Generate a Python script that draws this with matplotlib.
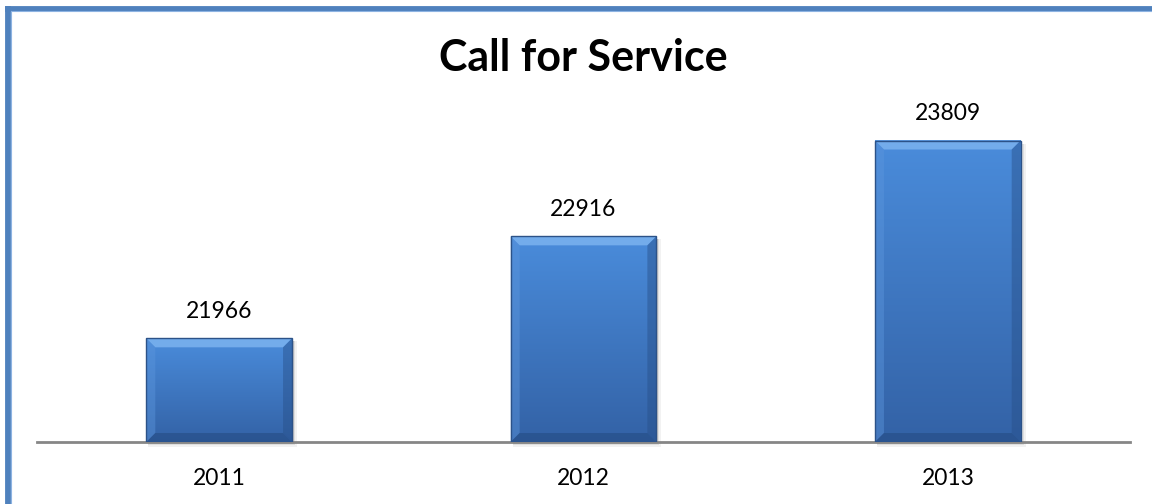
import matplotlib
matplotlib.use('Agg')
import matplotlib.pyplot as plt
import numpy as np
from matplotlib.patches import Polygon
from matplotlib.lines import Line2D

# data
years = ['2011', '2012', '2013']
calls = [21966, 22916, 23809]
y_min, y_max = 21000, 24000

W, H = 1152, 504
fig = plt.figure(figsize=(W / 100, H / 100), dpi=100)
fig.patch.set_facecolor('white')

# plot area in pixels: x 37..1130, y 120..442
ax = fig.add_axes([37 / W, (H - 442) / H, (1130 - 37) / W, (442 - 120) / H])
ax.set_xlim(-0.5, len(years) - 0.5)
ax.set_ylim(y_min, y_max)
ax.set_facecolor('none')
for s in ['top', 'right', 'left']:
	ax.spines[s].set_visible(False)
ax.spines['bottom'].set_color('#868686')
ax.spines['bottom'].set_linewidth(2)
ax.set_yticks([])
ax.set_xticks(range(len(years)))
ax.set_xticklabels(years, fontsize=16.5, family='Lato')
ax.tick_params(axis='x', length=0, pad=19)

bars = ax.bar(range(len(years)), [c - y_min for c in calls], bottom=y_min,
	width=0.4, color='none', edgecolor='none', zorder=3)

fig.canvas.draw()
to_data = ax.transData.inverted()

# gradient fill + bevel for each bar, worked out in pixel space
grad = np.linspace(0, 1, 256).reshape(-1, 1)
top_c = np.array([0x4a, 0x8c, 0xdb]) / 255
bot_c = np.array([0x33, 0x62, 0xa6]) / 255
cols = (top_c * (1 - grad) + bot_c * grad).reshape(256, 1, 3)
bev = 9  # bevel size in px

for b, val in zip(bars, calls):
	x0, y0 = b.get_x(), b.get_y()
	x1, y1 = x0 + b.get_width(), y0 + b.get_height()
	(px0, py0), (px1, py1) = ax.transData.transform([(x0, y0), (x1, y1)])

	def d(pts):
		return to_data.transform(pts)

	# soft shadow
	for k, a in [(5, 0.05), (3, 0.08), (1.5, 0.12)]:
		sh = d([(px0 + 2, py0 - k), (px1 + k, py0 - k), (px1 + k, py1 - 3), (px0 + 2, py1 - 3)])
		ax.add_patch(Polygon(sh, closed=True, facecolor='black', alpha=a, edgecolor='none', zorder=2, clip_on=False))

	ax.imshow(cols, extent=(x0, x1, y0, y1), aspect='auto', zorder=3, interpolation='bilinear')

	outer = [(px0, py1), (px1, py1), (px1, py0), (px0, py0)]
	inner = [(px0 + bev, py1 - bev), (px1 - bev, py1 - bev), (px1 - bev, py0 + bev), (px0 + bev, py0 + bev)]
	faces = [
		([outer[0], outer[1], inner[1], inner[0]], '#78b0ee', 0.9),  # top
		([outer[0], inner[0], inner[3], outer[3]], '#5b95dc', 0.45),  # left
		([outer[1], outer[2], inner[2], inner[1]], '#274f88', 0.45),  # right
		([outer[3], inner[3], inner[2], outer[2]], '#244a80', 0.55),  # bottom
	]
	for pts, c, a in faces:
		ax.add_patch(Polygon(d(pts), closed=True, facecolor=c, alpha=a, edgecolor='none', zorder=4))
	ax.add_patch(Polygon(d(outer), closed=True, facecolor='none', edgecolor='#2c5288', linewidth=1, zorder=5))

	ax.annotate(str(val), xy=(b.get_x() + b.get_width() / 2, y1), xytext=(0, 12),
		textcoords='offset points', ha='center', va='bottom', fontsize=16.5, family='Lato', zorder=6)

fig.text(583 / W, 1 - 58 / H, 'Call for Service', ha='center', va='center',
	fontsize=31, fontweight='bold', family='Lato')

# blue frame, only the left and top sides are inside the picture
fig.add_artist(Line2D([8 / W, 8 / W], [0, 1 - 9 / H], color='#4f81bd', linewidth=4.2))
fig.add_artist(Line2D([8 / W, 1], [1 - 9 / H, 1 - 9 / H], color='#4f81bd', linewidth=4.2))
fig.add_artist(Line2D([10.8 / W, 10.8 / W], [0, 1 - 11 / H], color='#8db3e2', linewidth=0.8))
fig.add_artist(Line2D([10.8 / W, 1], [1 - 11 / H, 1 - 11 / H], color='#8db3e2', linewidth=0.8))

plt.savefig('out.png', dpi=100)
